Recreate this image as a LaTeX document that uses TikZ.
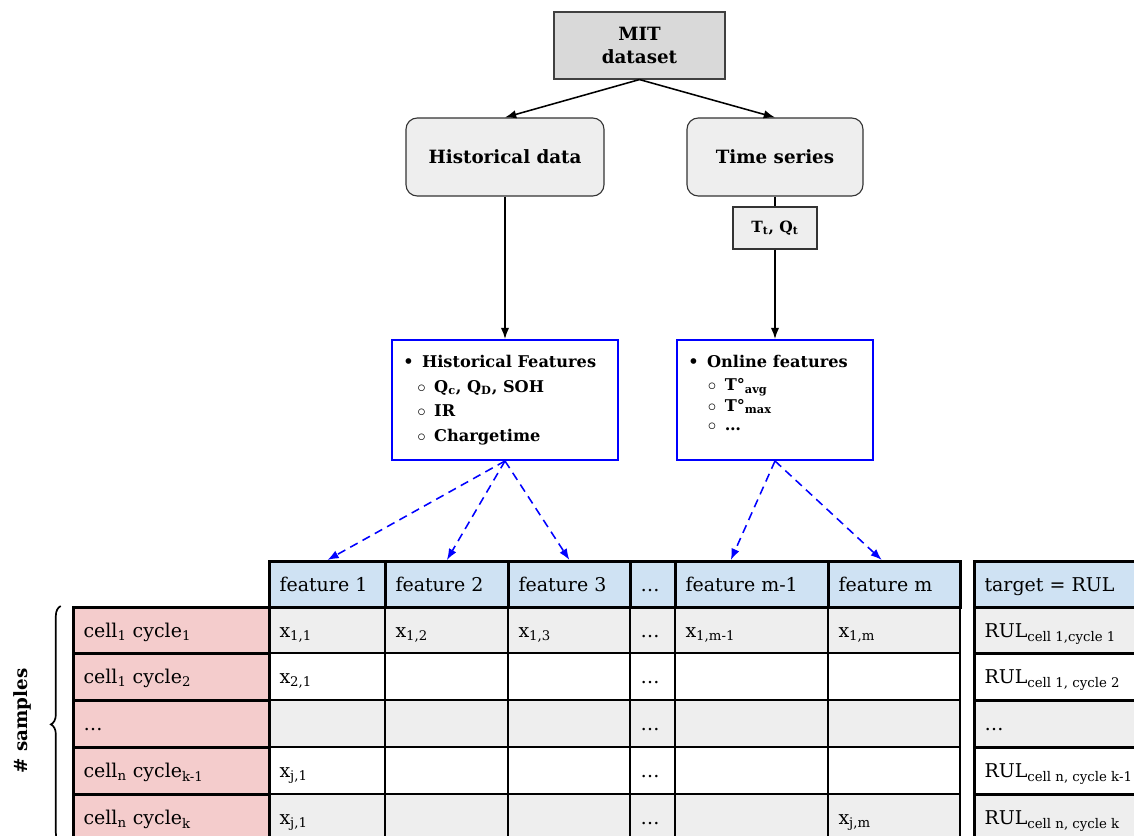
\documentclass[tikz,border=0pt]{standalone}
\usepackage{fontspec}
\setmainfont{DejaVu Serif}
\usetikzlibrary{arrows.meta, decorations.pathreplacing}

\definecolor{mitgray}{RGB}{217,217,217}
\definecolor{boxgray}{RGB}{238,238,238}
\definecolor{headblue}{RGB}{207,226,243}
\definecolor{rowgray}{RGB}{238,238,238}
\definecolor{samplered}{RGB}{244,204,204}
\definecolor{featblue}{RGB}{0,0,255}

\def\pxl{0.025cm}

\begin{document}
\begin{tikzpicture}[x=0.025cm, y=-0.025cm,
	mitbox/.style={draw=black!75, fill=mitgray, line width=0.8pt, minimum width=171*\pxl, minimum height=67*\pxl, align=center, inner sep=0pt, font=\fontsize{13}{17}\selectfont\bfseries},
	groupbox/.style={draw=black!80, fill=boxgray, line width=0.8pt, rounded corners=8pt, minimum height=78*\pxl, inner sep=0pt, font=\fontsize{13}{16}\selectfont\bfseries},
	varbox/.style={draw=black!80, fill=boxgray, line width=0.8pt, minimum width=84*\pxl, minimum height=42*\pxl, inner sep=0pt, font=\fontsize{11}{13}\selectfont\bfseries},
	featbox/.style={draw=featblue, line width=1.4pt, minimum height=120*\pxl, inner sep=0pt},
	featlist/.style={anchor=north west, align=left, inner sep=0pt, font=\fontsize{11.5}{17.5}\selectfont\bfseries},
	arr/.style={-{Latex[length=8pt, width=6pt]}, line width=1.1pt},
	dasharr/.style={-{Latex[length=8pt, width=6pt]}, featblue, line width=1.1pt, dash pattern=on 6pt off 4pt},
	head/.style={draw, fill=headblue, line width=2pt, anchor=north west, minimum height=46*\pxl, inner sep=0pt},
	bodycell/.style={draw, line width=1.4pt, anchor=north west, minimum height=47*\pxl, inner sep=0pt},
	samplecell/.style={draw, fill=samplered, line width=2pt, anchor=north west, minimum width=196*\pxl, minimum height=47*\pxl, inner sep=0pt},
	celltxt/.style={anchor=base west, inner sep=0pt, font=\fontsize{13.5}{16}\selectfont}
]

	\clip (0,0) rectangle (1134,836);

	\node[mitbox] (mit) at (639.5,45.5) {MIT\\dataset};
	\node[groupbox, minimum width=198*\pxl] (hist) at (505,157) {Historical data};
	\node[groupbox, minimum width=176*\pxl] (ts) at (775,157) {Time series};
	\node[varbox] (tq) at (775,228) {T\textsubscript{t}, Q\textsubscript{t}};

	\node[featbox, minimum width=226*\pxl] (hf) at (505,400) {};
	\node[featbox, minimum width=196*\pxl] (of) at (775,400) {};

	\node[featlist] (hf-txt) at (403,355) {\textbullet\hspace{6pt}Historical Features\\
		\hspace{10pt}$\circ$\hspace{6pt}Q\textsubscript{c}, Q\textsubscript{D}, SOH\\
		\hspace{10pt}$\circ$\hspace{6pt}IR\\
		\hspace{10pt}$\circ$\hspace{6pt}Chargetime};
	\node[featlist] (of-txt) at (688,355) {\textbullet\hspace{6pt}Online features\\[-1pt]
		\hspace{14pt}$\circ$\hspace{6pt}T°\textsubscript{avg}\\[-3pt]
		\hspace{14pt}$\circ$\hspace{6pt}T°\textsubscript{max}\\[-4pt]
		\hspace{14pt}$\circ$\hspace{6pt}\ldots};

	\draw[arr] (mit.south) -- (hist.north);
	\draw[arr] (mit.south) -- (ts.north);
	\draw[arr] (hist.south) -- (hf.north);
	\draw[line width=1.1pt] (ts.south) -- (tq.north);
	\draw[arr] (tq.south) -- (of.north);

	% table body
	\foreach \r/\y/\rc in {1/606/rowgray, 2/652/white, 3/699/rowgray, 4/746/white, 5/793/rowgray}
	{
		\foreach \c/\x/\w in {1/268/116, 2/384/123, 3/507/122, d/629/45, m1/674/153, m/827/132}
			\node[bodycell, fill=\rc, minimum width=\w*\pxl] (x\r-\c) at (\x,\y) {};
		\node[bodycell, fill=\rc, line width=2pt, minimum width=175*\pxl] (rul\r) at (973,\y) {};
		\node[samplecell] (s\r) at (72,\y) {};
		\node[celltxt] (dots\r) at ([xshift=8pt,yshift=-5pt]x\r-d.west) {\ldots};
	}

	% header
	\foreach \n/\x/\w/\txt in {f1/268/116/feature 1, f2/384/123/feature 2, f3/507/122/feature 3, fd/629/45/\ldots, fm1/674/153/feature m-1, fm/827/132/feature m, tgt/973/175/target = RUL}
	{
		\node[head, minimum width=\w*\pxl] (\n) at (\x,560) {};
		\node[celltxt] (\n-t) at ([xshift=8pt,yshift=-5pt]\n.west) {\txt};
	}

	\node[celltxt] (s1-t) at ([xshift=8pt,yshift=-5pt]s1.west) {cell\textsubscript{1} cycle\textsubscript{1}};
	\node[celltxt] (s2-t) at ([xshift=8pt,yshift=-5pt]s2.west) {cell\textsubscript{1} cycle\textsubscript{2}};
	\node[celltxt] (s3-t) at ([xshift=8pt,yshift=-5pt]s3.west) {\ldots};
	\node[celltxt] (s4-t) at ([xshift=8pt,yshift=-5pt]s4.west) {cell\textsubscript{n} cycle\textsubscript{k-1}};
	\node[celltxt] (s5-t) at ([xshift=8pt,yshift=-5pt]s5.west) {cell\textsubscript{n} cycle\textsubscript{k}};

	\node[celltxt] (x1-1-t) at ([xshift=8pt,yshift=-5pt]x1-1.west) {x\textsubscript{1,1}};
	\node[celltxt] (x1-2-t) at ([xshift=8pt,yshift=-5pt]x1-2.west) {x\textsubscript{1,2}};
	\node[celltxt] (x1-3-t) at ([xshift=8pt,yshift=-5pt]x1-3.west) {x\textsubscript{1,3}};
	\node[celltxt] (x1-m1-t) at ([xshift=8pt,yshift=-5pt]x1-m1.west) {x\textsubscript{1,m-1}};
	\node[celltxt] (x1-m-t) at ([xshift=8pt,yshift=-5pt]x1-m.west) {x\textsubscript{1,m}};
	\node[celltxt] (x2-1-t) at ([xshift=8pt,yshift=-5pt]x2-1.west) {x\textsubscript{2,1}};
	\node[celltxt] (x4-1-t) at ([xshift=8pt,yshift=-5pt]x4-1.west) {x\textsubscript{j,1}};
	\node[celltxt] (x5-1-t) at ([xshift=8pt,yshift=-5pt]x5-1.west) {x\textsubscript{j,1}};
	\node[celltxt] (x5-m-t) at ([xshift=8pt,yshift=-5pt]x5-m.west) {x\textsubscript{j,m}};

	\node[celltxt] (rul1-t) at ([xshift=8pt,yshift=-5pt]rul1.west) {RUL\textsubscript{cell 1,cycle 1}};
	\node[celltxt] (rul2-t) at ([xshift=8pt,yshift=-5pt]rul2.west) {RUL\textsubscript{cell 1, cycle 2}};
	\node[celltxt] (rul3-t) at ([xshift=8pt,yshift=-5pt]rul3.west) {\ldots};
	\node[celltxt] (rul4-t) at ([xshift=8pt,yshift=-5pt]rul4.west) {RUL\textsubscript{cell n, cycle k-1}};
	\node[celltxt] (rul5-t) at ([xshift=8pt,yshift=-5pt]rul5.west) {RUL\textsubscript{cell n, cycle k}};

	\draw[dasharr] (hf.south) -- (f1.north);
	\draw[dasharr] (hf.south) -- (f2.north);
	\draw[dasharr] (hf.south) -- (f3.north);
	\draw[dasharr] (of.south) -- ([xshift=-15pt]fm1.north);
	\draw[dasharr] (of.south) -- ([xshift=-9pt]fm.north);

	\draw[line width=1.2pt, decorate, decoration={brace, amplitude=7pt}]
		([xshift=-8pt]s5.south west) -- ([xshift=-8pt]s1.north west);
	\node[rotate=90, font=\fontsize{13}{15}\selectfont\bfseries] (samples) at (22,721) {\# samples};

\end{tikzpicture}
\end{document}
